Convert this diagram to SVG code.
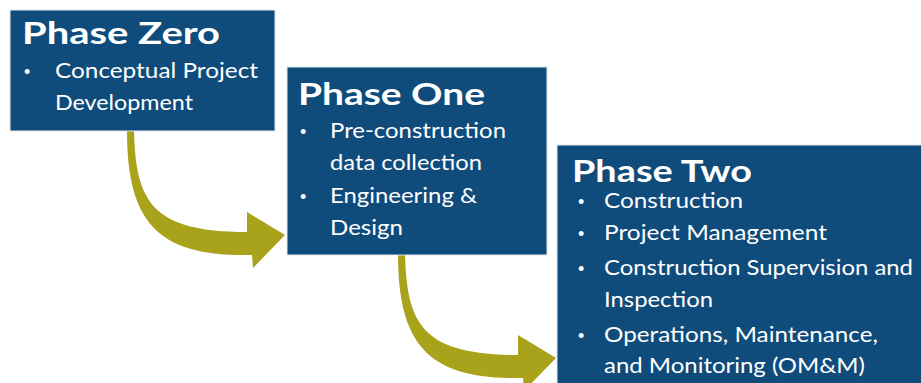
<svg xmlns="http://www.w3.org/2000/svg" xmlns:xlink="http://www.w3.org/1999/xlink" width="921" height="383" viewBox="0 0 921 383">
<style>
.box{fill:#0f4c7c;stroke:#dfe7ee;stroke-width:1}
.h{font-family:Lato,"Open Sans","Liberation Sans",sans-serif;font-weight:bold;font-size:30px;fill:#fff}
.t{font-family:Lato,"Open Sans","Liberation Sans",sans-serif;font-size:22px;fill:#fff}
.b{font-family:"Liberation Sans",sans-serif;font-size:18px;fill:#fff}
.arrow{fill:#a9a31c}
</style>
<defs>
<path id="arr" d="M127,131 L134,131 C136,200 150,232 247,232 L247,212 L285,235 L253,268 L252,255 C160,257 127,225 127,131 Z"/>
</defs>
<rect width="921" height="383" fill="#fff"/>
<g id="connectors">
<use xlink:href="#arr" class="arrow"/>
<use xlink:href="#arr" class="arrow" transform="translate(271,123)"/>
</g>
<g id="phase-zero">
<rect class="box" x="10" y="10" width="265" height="121"/>
<text class="h" x="22" y="44" textLength="198" lengthAdjust="spacingAndGlyphs">Phase Zero</text>
<text class="b" x="24" y="78">•</text>
<text class="t" x="55" y="78" textLength="203" lengthAdjust="spacingAndGlyphs">Conceptual Project</text>
<text class="t" x="55" y="110" textLength="138" lengthAdjust="spacingAndGlyphs">Development</text>
</g>
<g id="phase-one">
<rect class="box" x="287" y="67" width="260" height="188"/>
<text class="h" x="298" y="105" textLength="187" lengthAdjust="spacingAndGlyphs">Phase One</text>
<text class="b" x="300" y="138">•</text>
<text class="t" x="330" y="138" textLength="176" lengthAdjust="spacingAndGlyphs">Pre-construction</text>
<text class="t" x="330" y="170" textLength="152" lengthAdjust="spacingAndGlyphs">data collection</text>
<text class="b" x="300" y="203">•</text>
<text class="t" x="330" y="203" textLength="147" lengthAdjust="spacingAndGlyphs">Engineering &amp;</text>
<text class="t" x="330" y="235" textLength="73" lengthAdjust="spacingAndGlyphs">Design</text>
</g>
<g id="phase-two">
<rect class="box" x="557" y="145" width="370" height="245"/>
<text class="h" x="572" y="182" textLength="180" lengthAdjust="spacingAndGlyphs">Phase Two</text>
<text class="b" x="578" y="208">•</text>
<text class="t" x="604" y="208" textLength="139" lengthAdjust="spacingAndGlyphs">Construction</text>
<text class="b" x="578" y="240">•</text>
<text class="t" x="604" y="240" textLength="223" lengthAdjust="spacingAndGlyphs">Project Management</text>
<text class="b" x="578" y="275">•</text>
<text class="t" x="604" y="275" textLength="309" lengthAdjust="spacingAndGlyphs">Construction Supervision and</text>
<text class="t" x="604" y="307" textLength="109" lengthAdjust="spacingAndGlyphs">Inspection</text>
<text class="b" x="578" y="342">•</text>
<text class="t" x="604" y="342" textLength="274" lengthAdjust="spacingAndGlyphs">Operations, Maintenance,</text>
<text class="t" x="604" y="373" textLength="261" lengthAdjust="spacingAndGlyphs">and Monitoring (OM&amp;M)</text>
</g>
</svg>
